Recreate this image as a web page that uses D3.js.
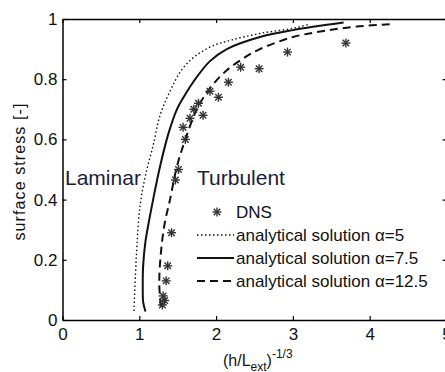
<!DOCTYPE html>
<html>
<head>
<meta charset="utf-8">
<script src="https://cdn.jsdelivr.net/npm/d3@7"></script>
<style>
  body { margin: 0; background: #fff; }
  svg text { font-family: Arial, "Liberation Sans", sans-serif; }
</style>
</head>
<body>
<div id="chart"></div>
<script>
// tick values
const xTicks = [0, 1, 2, 3, 4, 5];
const yTicks = [0, 0.2, 0.4, 0.6, 0.8, 1];

// DNS points [x, y]
const dnsX = [3.69, 2.93, 2.56, 2.32, 2.16, 2.03, 1.92, 1.83, 1.77, 1.71, 1.66, 1.57, 1.60, 1.51, 1.47, 1.42, 1.37, 1.35, 1.31, 1.33, 1.30];
const dnsY = [0.92, 0.89, 0.835, 0.84, 0.79, 0.74, 0.76, 0.68, 0.72, 0.70, 0.67, 0.64, 0.60, 0.50, 0.465, 0.29, 0.18, 0.13, 0.08, 0.065, 0.05];

// analytical solutions, alpha = 5, 7.5, 12.5
const a5X = [0.93, 0.95, 0.97, 1.01, 1.08, 1.18, 1.27, 1.40, 1.55, 1.72, 1.95, 2.20, 2.57, 3.00, 3.22];
const a5Y = [0.03, 0.15, 0.25, 0.38, 0.48, 0.58, 0.68, 0.76, 0.83, 0.875, 0.91, 0.93, 0.952, 0.969, 0.983];

const a75X = [1.08, 1.05, 1.045, 1.05, 1.08, 1.12, 1.18, 1.27, 1.38, 1.49, 1.60, 1.70, 1.92, 2.14, 2.57, 3.00, 3.66];
const a75Y = [0.028, 0.06, 0.10, 0.18, 0.26, 0.32, 0.40, 0.51, 0.62, 0.70, 0.75, 0.79, 0.86, 0.90, 0.94, 0.963, 0.988];

const a125X = [1.28, 1.26, 1.28, 1.33, 1.40, 1.49, 1.60, 1.75, 1.92, 2.14, 2.36, 2.57, 3.00, 3.40, 3.83, 4.31];
const a125Y = [0.045, 0.12, 0.22, 0.32, 0.40, 0.51, 0.60, 0.70, 0.77, 0.83, 0.87, 0.90, 0.94, 0.96, 0.975, 0.983];

const legendLabels = ["DNS", "analytical solution \u03b1=5", "analytical solution \u03b1=7.5", "analytical solution \u03b1=12.5"];

const W = 445, H = 372;
const svg = d3.select("#chart").append("svg")
  .attr("width", W).attr("height", H);

const x = d3.scaleLinear().domain([0, 5]).range([62.5, 446.5]);
const y = d3.scaleLinear().domain([0, 1]).range([320, 19]);

const fs = "17px";

// axes, MATLAB style box with inward ticks
const bottom = svg.append("g").attr("transform", `translate(0,${y(0)})`)
  .call(d3.axisBottom(x).tickValues(xTicks).tickSizeInner(-4).tickSizeOuter(0).tickPadding(8).tickFormat(d3.format("d")));
const left = svg.append("g").attr("transform", `translate(${x(0)},0)`)
  .call(d3.axisLeft(y).tickValues(yTicks).tickSizeInner(-4).tickSizeOuter(0).tickPadding(5).tickFormat(d => d === 0 || d === 1 ? d : d.toFixed(1)));
svg.append("g").attr("transform", `translate(0,${y(1)})`)
  .call(d3.axisTop(x).tickValues(xTicks).tickSizeInner(-4).tickSizeOuter(0).tickFormat(""));
svg.append("g").attr("transform", `translate(${x(5)},0)`)
  .call(d3.axisRight(y).tickValues(yTicks).tickSizeInner(-4).tickSizeOuter(0).tickFormat(""));

svg.selectAll(".domain").attr("stroke", "#000").attr("stroke-width", 1.5);
svg.selectAll(".tick line").attr("stroke", "#000").attr("stroke-width", 1.2);
svg.selectAll(".tick text").attr("fill", "#111").style("font-size", fs)
  .style("font-family", "Arial, 'Liberation Sans', sans-serif");

// axis titles
svg.append("text")
  .attr("transform", `translate(25,${(y(0) + y(1)) / 2 + 2}) rotate(-90)`)
  .attr("text-anchor", "middle")
  .style("font-size", "16px").style("letter-spacing", "1.1px").attr("fill", "#111")
  .text("surface stress [-]");

const xt = svg.append("text")
  .attr("x", 223).attr("y", 366)
  .style("font-size", "16px").attr("fill", "#111");
xt.append("tspan").text("(h/L");
xt.append("tspan").attr("dy", 5).style("font-size", "12px").text("ext");
xt.append("tspan").attr("dy", -5).text(")");
xt.append("tspan").attr("dy", -8).style("font-size", "12px").text("-1/3");

// curves
const line = d3.line().x(d => x(d[0])).y(d => y(d[1])).curve(d3.curveCatmullRom);
const curves = [
  { xs: a5X, ys: a5Y, dash: "1.5,2.5", w: 1.4 },
  { xs: a75X, ys: a75Y, dash: null, w: 2 },
  { xs: a125X, ys: a125Y, dash: "8,5", w: 2 }
];
curves.forEach(c => {
  svg.append("path")
    .datum(c.xs.map((v, i) => [v, c.ys[i]]))
    .attr("d", line)
    .attr("fill", "none")
    .attr("stroke", "#111")
    .attr("stroke-width", c.w)
    .attr("stroke-dasharray", c.dash);
});

// asterisk marker
function star(g, cx, cy, r) {
  const s = g.append("g").attr("transform", `translate(${cx},${cy})`)
    .attr("stroke", "#333").attr("stroke-width", 1.4);
  s.append("line").attr("x1", -r).attr("x2", r).attr("y1", 0).attr("y2", 0);
  s.append("line").attr("x1", 0).attr("x2", 0).attr("y1", -r).attr("y2", r);
  const q = r * 0.72;
  s.append("line").attr("x1", -q).attr("x2", q).attr("y1", -q).attr("y2", q);
  s.append("line").attr("x1", -q).attr("x2", q).attr("y1", q).attr("y2", -q);
}
const dg = svg.append("g");
dnsX.forEach((v, i) => star(dg, x(v), y(dnsY[i]), 4.5));

// annotations
svg.append("text").attr("x", 65).attr("y", 185)
  .style("font-size", "21px").attr("fill", "#1c1c3c").text("Laminar");
svg.append("text").attr("x", 197).attr("y", 185)
  .style("font-size", "21px").attr("fill", "#1c1c3c").text("Turbulent");

// legend
const lg = svg.append("g");
const rowY = [212, 235, 258, 281];
star(lg, 217, rowY[0], 4.5);
curves.forEach((c, i) => {
  lg.append("line")
    .attr("x1", 197).attr("x2", 234)
    .attr("y1", rowY[i + 1]).attr("y2", rowY[i + 1])
    .attr("stroke", "#111").attr("stroke-width", c.w)
    .attr("stroke-dasharray", c.dash);
});
legendLabels.forEach((t, i) => {
  lg.append("text").attr("x", 236).attr("y", rowY[i]).attr("dy", "0.36em")
    .style("font-size", "17px").attr("fill", "#111").text(t);
});
</script>
</body>
</html>
